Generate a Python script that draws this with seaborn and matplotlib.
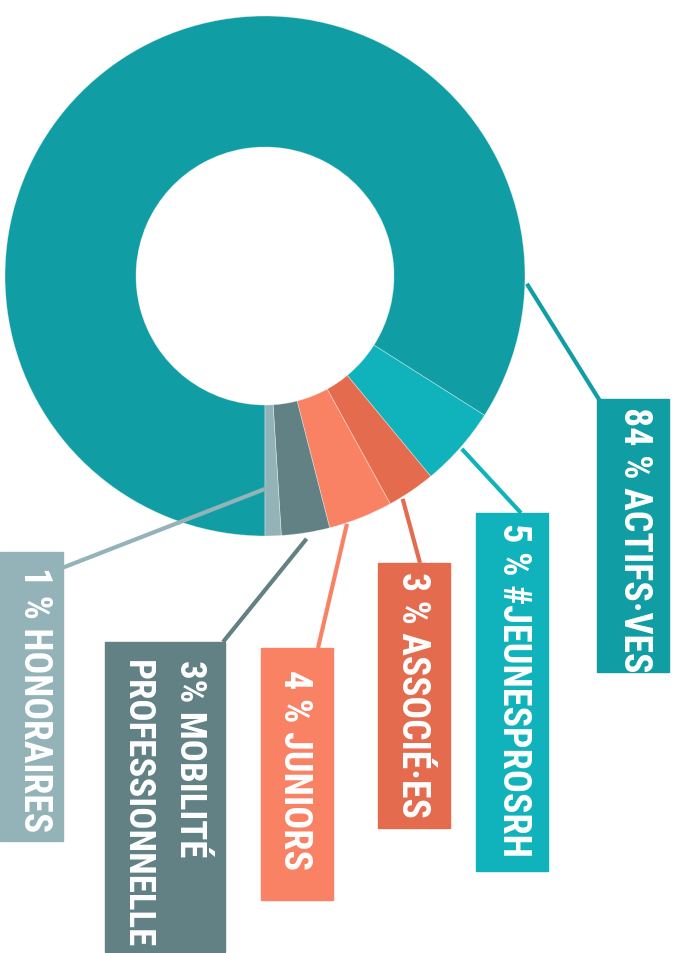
import matplotlib
matplotlib.use("Agg")
import matplotlib.pyplot as plt
import seaborn as sns
from matplotlib.patches import Rectangle
import numpy as np

sns.set_theme(style="white")
plt.rcParams['font.family'] = ['Roboto Condensed', 'Liberation Sans Narrow', 'DejaVu Sans']

# data
categories = ["ACTIFS·VES", "#JEUNESPROSRH", "ASSOCIÉ·ES", "JUNIORS",
              "MOBILITÉ PROFESSIONNELLE", "HONORAIRES"]
shares = [84, 5, 3, 4, 3, 1]
label_lines = [["84 % ACTIFS·VES"], ["5 % #JEUNESPROSRH"], ["3 % ASSOCIÉ·ES"],
               ["4 % JUNIORS"], ["3% MOBILITÉ", "PROFESSIONNELLE"], ["1 % HONORAIRES"]]
colors = ["#109da4", "#10b3bc", "#e56b4e", "#f98265", "#628185", "#94b3b8"]

# layout in pixels (origin top-left)
center = (265, 277)
r_out, r_in = 260, 129
# box x0, y0, x1, y1
boxes = [(597, 400, 669, 673), (476, 514, 548, 872), (378, 564, 450, 829),
         (261, 649, 333, 901), (105, 643, 225, 953), (0, 553, 63, 842)]
# per text line: centre x, top y, wanted length
text_pos = [[(635, 407, 265)], [(513, 523, 333)], [(412, 572, 246)],
            [(295, 670, 200)], [(190, 660, 205), (137, 660, 288)], [(34, 567, 265)]]
# leader: anchor angle (deg below horizontal), anchor radius, end point
leaders = [(1.7, 262, (600, 402)), (41.3, 262, (521, 514)), (58.3, 262, (420, 564)),
           (71.7, 261, (318, 649)), (81.0, 266, (223, 643)), (88.6, 211, (62, 569))]

fig = plt.figure(figsize=(6.78, 9.54), dpi=100)
ax = fig.add_axes([0, 0, 1, 1])

ax.pie(shares, colors=colors, center=center, radius=r_out, startangle=90,
       counterclock=True,
       wedgeprops=dict(width=r_out - r_in, edgecolor=(1, 1, 1, 0.45), linewidth=0.5))
ax.set_xlim(0, 678)
ax.set_ylim(954, 0)
ax.set_aspect('auto')
ax.axis('off')

texts = []
for i, cat in enumerate(categories):
    x0, y0, x1, y1 = boxes[i]
    ax.add_patch(Rectangle((x0, y0), x1 - x0, y1 - y0, color=colors[i], zorder=3))
    ang, rad, (ex, ey) = leaders[i]
    sx = center[0] + rad * np.cos(np.radians(ang))
    sy = center[1] + rad * np.sin(np.radians(ang))
    ax.plot([sx, ex], [sy, ey], color=colors[i], lw=3.0, solid_capstyle='butt', zorder=2.5)
    group = []
    for line, (cx, ty, length) in zip(label_lines[i], text_pos[i]):
        t = ax.text(cx, ty, line, rotation=-90, ha='center', va='top', color='white',
                    fontsize=30, fontweight='bold', fontstretch='condensed', zorder=4)
        group.append((t, length))
    texts.append(group)

# scale fonts so each label fills its box length
fig.canvas.draw()
renderer = fig.canvas.get_renderer()
for group in texts:
    scale = min(length / t.get_window_extent(renderer).height for t, length in group)
    for t, _ in group:
        size = t.get_fontsize() * scale
        # keep the glyph height inside the box width
        size = min(size, 40)
        t.set_fontsize(size)

fig.savefig("out.png", dpi=100, facecolor="white")
